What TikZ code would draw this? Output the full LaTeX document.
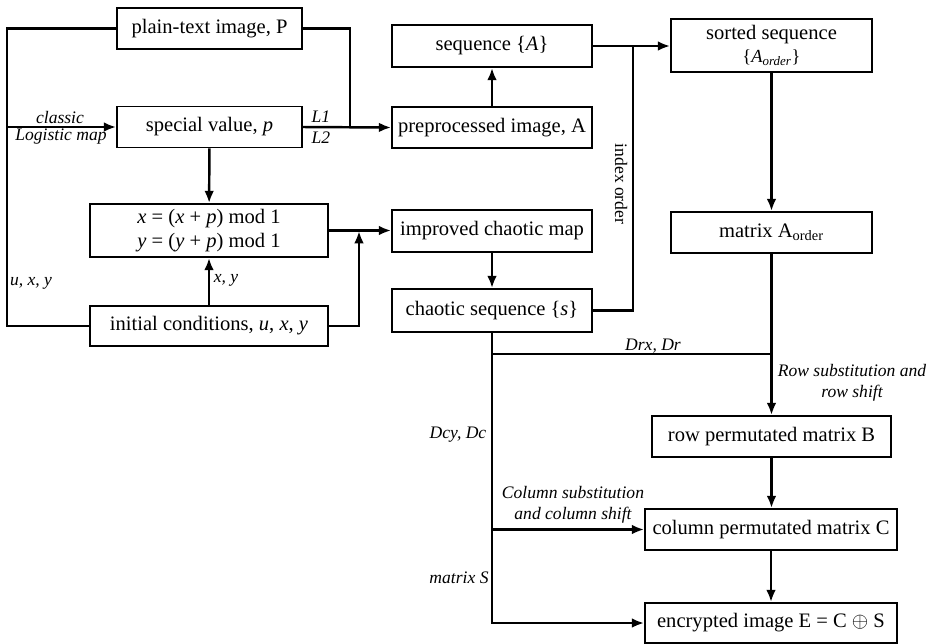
\documentclass[tikz,border=0pt]{standalone}
\usepackage{fontspec}
\setmainfont{Liberation Serif}
\usepackage{tikz}
\usetikzlibrary{arrows,arrows.meta}
\usetikzlibrary{calc, positioning}
\tikzset{
    blk/.style 2 args={
        draw, line width=1pt, inner sep=1pt, align=center,
        minimum width=#1, minimum height=#2,
        font=\fontsize{11.7}{14.5}\selectfont
    },
    wire/.style={line width=1.4pt},
    wirearr/.style={line width=1.4pt, -{Latex[length=7pt,width=5.5pt]}},
    lbl/.style={font=\fontsize{10}{12}\selectfont\itshape, inner sep=0pt}
}

\begin{document}
\begin{tikzpicture}[x=0.02cm, y=-0.02cm]
    \useasboundingbox (0,0) rectangle (935,643);
    % left column
    \node[blk={3.7cm}{0.82cm}] (plain) at (209.5,28.5) {plain-text image, P};
    \node[blk={3.7cm}{0.82cm}] (special) at (209.5,127) {special value, \textit{p}};
    \node[blk={4.76cm}{1.06cm}] (formula) at (209,230.5)
        {\textit{x} = (\textit{x} + \textit{p}) mod 1\\[-1pt]\textit{y} = (\textit{y} + \textit{p}) mod 1};
    \node[blk={4.76cm}{0.8cm}] (init) at (209,326) {initial conditions, \textit{u}, \textit{x}, \textit{y}};
    % middle column
    \node[blk={4cm}{0.84cm}] (seqA) at (492,46) {sequence \{\textit{A}\}};
    \node[blk={4cm}{0.82cm}] (prep) at (492,127.5) {preprocessed image, A};
    \node[blk={4cm}{0.84cm}] (improved) at (492,231) {improved chaotic map};
    \node[blk={4cm}{0.86cm}] (chaotic) at (492,310.5) {chaotic sequence \{\textit{s}\}};
    % right column
    \node[blk={4.02cm}{1.06cm}] (sorted) at (771.5,45.5)
        {sorted sequence\\[-1pt]{\fontsize{10.5}{12}\selectfont\{\textit{A}\textsubscript{\textit{order}}\}}};
    \node[blk={4.02cm}{0.82cm}] (matA) at (771.5,232.5) {matrix A\textsubscript{order}};
    \node[blk={4.78cm}{0.82cm}] (rowB) at (771.5,436.5) {row permutated matrix B};
    \node[blk={5.04cm}{0.82cm}] (colC) at (771,529.5) {column permutated matrix C};
    \node[blk={5.04cm}{0.8cm}] (enc) at (771,623) {encrypted image E = C $\oplus$ S};

    \coordinate (lt) at (7,28.5);
    \coordinate (lm) at (7,127);
    \coordinate (lb) at (7,326);
    \coordinate (pr) at (350,127);
    \coordinate (jf) at (359,231);
    \coordinate (jo) at (633,46);
    \coordinate (js) at (492,354);
    \coordinate (jr) at (771.5,354);
    \coordinate (jc) at (492,529.5);

    \draw[wire] (plain.west) -- (lt) -- (lb) -- (init.west);
    \draw[wirearr] (lm) -- (special.west);
    \draw[wire] (plain.east) -| (pr);
    \draw[wirearr] (special.east) -- (prep.west);
    \draw[wirearr] (special) -- (formula);
    \draw[wirearr] (init) -- (formula);
    \draw[wirearr] (formula.east) -- (formula.east -| improved.west);
    \draw[wirearr] (init.east) -| (jf);
    \draw[wirearr] (prep) -- (seqA);
    \draw[wirearr] (seqA.east) -- (seqA.east -| sorted.west);
    \draw[wire] (chaotic.east) -| (jo);
    \draw[wirearr] (improved) -- (chaotic);
    \draw[wirearr] (sorted) -- (matA);
    \draw[wirearr] (matA) -- (rowB);
    \draw[wire] (js) -- (jr);
    \draw[wirearr] (chaotic.south) |- (enc.west);
    \draw[wirearr] (jc) -- (colC.west);
    \draw[wirearr] (rowB.south) -- (rowB.south |- colC.north);
    \draw[wirearr] (colC) -- (enc);

    % labels
    \node[lbl] (lclassic) at (60,117) {classic};
    \node[lbl] (llog) at (61,137) {Logistic map};
    \node[lbl] (ll1) at (321,117) {L1};
    \node[lbl] (ll2) at (321,138) {L2};
    \node[lbl] (luxy) at (31,283) {u, x, y};
    \node[lbl] (lxy) at (226,280) {x, y};
    \node[lbl, font=\fontsize{10}{12}\selectfont, rotate=-90] (lidx) at (621,184) {index order};
    \node[lbl] (ldrx) at (653,346) {Drx, Dr};
    \node[lbl, align=center] (lrow) at (852,383) {Row substitution and\\row shift};
    \node[lbl] (ldcy) at (458,435) {Dcy, Dc};
    \node[lbl, align=center] (lcol) at (573,505) {Column substitution\\and column shift};
    \node[lbl] (lms) at (459,578) {matrix S};
\end{tikzpicture}
\end{document}
